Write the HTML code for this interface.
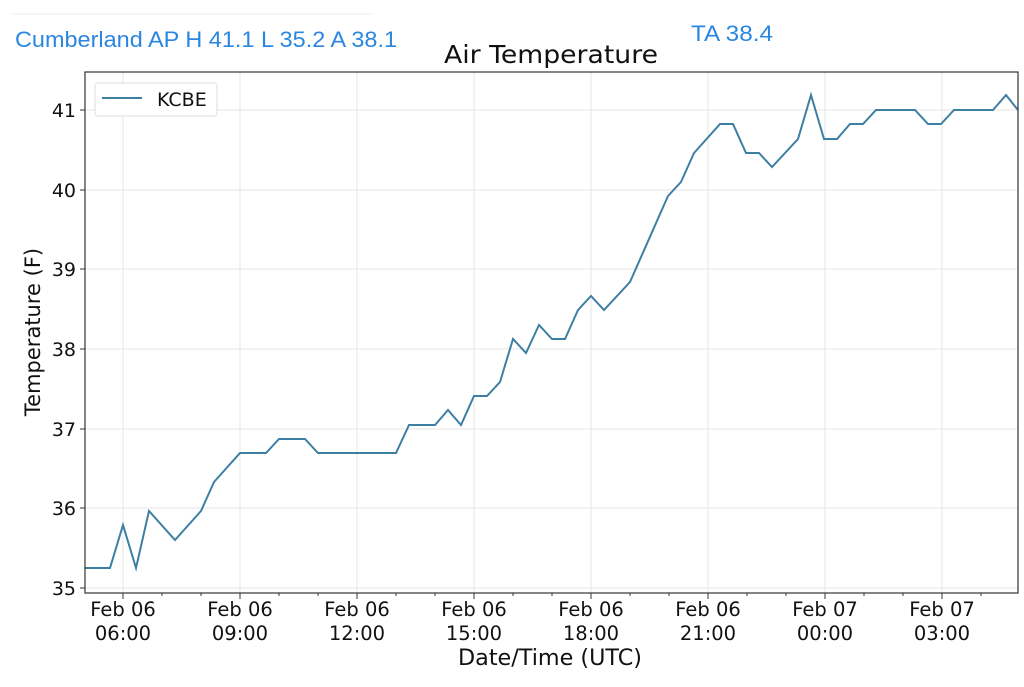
<!DOCTYPE html>
<html><head><meta charset="utf-8"><style>
body{margin:0;background:#fff;width:1024px;height:683px;overflow:hidden;font-family:"DejaVu Sans","Liberation Sans",sans-serif;}
</style></head><body>
<svg width="1024" height="683" xmlns="http://www.w3.org/2000/svg" font-family="DejaVu Sans, Liberation Sans, sans-serif">
<line x1="13" y1="14" x2="373" y2="14" stroke="#eee" stroke-width="1"/>
<text x="15" y="47" font-family="Liberation Sans, sans-serif" font-size="22" fill="#2a86e0" textLength="382" lengthAdjust="spacingAndGlyphs">Cumberland AP H 41.1 L 35.2 A 38.1</text>
<text x="691" y="41" font-family="Liberation Sans, sans-serif" font-size="22" fill="#2a86e0" textLength="82" lengthAdjust="spacingAndGlyphs">TA 38.4</text>
<text x="444" y="63" font-size="25" fill="#111" textLength="214" lengthAdjust="spacingAndGlyphs">Air Temperature</text>
<g stroke="#e6e6e6" stroke-width="1">
<line x1="123" y1="72" x2="123" y2="593"/><line x1="240" y1="72" x2="240" y2="593"/><line x1="357" y1="72" x2="357" y2="593"/><line x1="474" y1="72" x2="474" y2="593"/><line x1="591" y1="72" x2="591" y2="593"/><line x1="708" y1="72" x2="708" y2="593"/><line x1="825" y1="72" x2="825" y2="593"/><line x1="942" y1="72" x2="942" y2="593"/>
<line x1="85" y1="110" x2="1018" y2="110"/><line x1="85" y1="190" x2="1018" y2="190"/><line x1="85" y1="269" x2="1018" y2="269"/><line x1="85" y1="349" x2="1018" y2="349"/><line x1="85" y1="429" x2="1018" y2="429"/><line x1="85" y1="508" x2="1018" y2="508"/><line x1="85" y1="588" x2="1018" y2="588"/>
</g>
<polyline fill="none" stroke="#3d7fa3" stroke-width="2" points="85,568 110,568 123,525 136,568 149,511 175,540 201,511 214,482 240,453 266,453 279,439 305,439 318,453 396,453 409,425 435,425 448,410 461,425 474,396 487,396 500,382 513,339 526,353 539,325 552,339 565,339 578,310 591,296 604,310 630,282 668,196 681,182 694,153 720,124 733,124 746,153 759,153 772,167 798,139 811,95 824,139 837,139 850,124 863,124 876,110 915,110 928,124 941,124 954,110 993,110 1006,95 1018,110"/>
<rect x="85" y="72" width="933" height="521" fill="none" stroke="#333" stroke-width="1.2"/>
<g stroke="#333" stroke-width="1">
<line x1="80" y1="110" x2="85" y2="110"/><line x1="80" y1="190" x2="85" y2="190"/><line x1="80" y1="269" x2="85" y2="269"/><line x1="80" y1="349" x2="85" y2="349"/><line x1="80" y1="429" x2="85" y2="429"/><line x1="80" y1="508" x2="85" y2="508"/><line x1="80" y1="588" x2="85" y2="588"/>
<line x1="123" y1="593" x2="123" y2="599"/><line x1="240" y1="593" x2="240" y2="599"/><line x1="357" y1="593" x2="357" y2="599"/><line x1="474" y1="593" x2="474" y2="599"/><line x1="591" y1="593" x2="591" y2="599"/><line x1="708" y1="593" x2="708" y2="599"/><line x1="825" y1="593" x2="825" y2="599"/><line x1="942" y1="593" x2="942" y2="599"/>
<line x1="162" y1="593" x2="162" y2="596"/><line x1="201" y1="593" x2="201" y2="596"/><line x1="279" y1="593" x2="279" y2="596"/><line x1="318" y1="593" x2="318" y2="596"/><line x1="396" y1="593" x2="396" y2="596"/><line x1="435" y1="593" x2="435" y2="596"/><line x1="513" y1="593" x2="513" y2="596"/><line x1="552" y1="593" x2="552" y2="596"/><line x1="630" y1="593" x2="630" y2="596"/><line x1="669" y1="593" x2="669" y2="596"/><line x1="747" y1="593" x2="747" y2="596"/><line x1="786" y1="593" x2="786" y2="596"/><line x1="864" y1="593" x2="864" y2="596"/><line x1="903" y1="593" x2="903" y2="596"/><line x1="981" y1="593" x2="981" y2="596"/>
</g>
<g font-size="19" fill="#111" text-anchor="end">
<text x="76" y="117">41</text><text x="76" y="197">40</text><text x="76" y="276">39</text><text x="76" y="356">38</text><text x="76" y="436">37</text><text x="76" y="515">36</text><text x="76" y="595">35</text>
</g>
<g font-size="19.5" fill="#111" text-anchor="middle">
<text x="123" y="616">Feb 06</text><text x="123" y="640">06:00</text>
<text x="240" y="616">Feb 06</text><text x="240" y="640">09:00</text>
<text x="357" y="616">Feb 06</text><text x="357" y="640">12:00</text>
<text x="474" y="616">Feb 06</text><text x="474" y="640">15:00</text>
<text x="591" y="616">Feb 06</text><text x="591" y="640">18:00</text>
<text x="708" y="616">Feb 06</text><text x="708" y="640">21:00</text>
<text x="825" y="616">Feb 07</text><text x="825" y="640">00:00</text>
<text x="942" y="616">Feb 07</text><text x="942" y="640">03:00</text>
</g>
<text x="458" y="665" font-size="22" fill="#111" textLength="184" lengthAdjust="spacingAndGlyphs">Date/Time (UTC)</text>
<text transform="translate(40,332) rotate(-90)" font-size="21" text-anchor="middle" fill="#111">Temperature (F)</text>
<rect x="95" y="83" width="122" height="33" rx="3" fill="#fff" stroke="#ddd"/>
<line x1="102" y1="98" x2="142" y2="98" stroke="#3d7fa3" stroke-width="2"/>
<text x="157" y="106" font-size="19" fill="#111">KCBE</text>
</svg>
</body></html>
